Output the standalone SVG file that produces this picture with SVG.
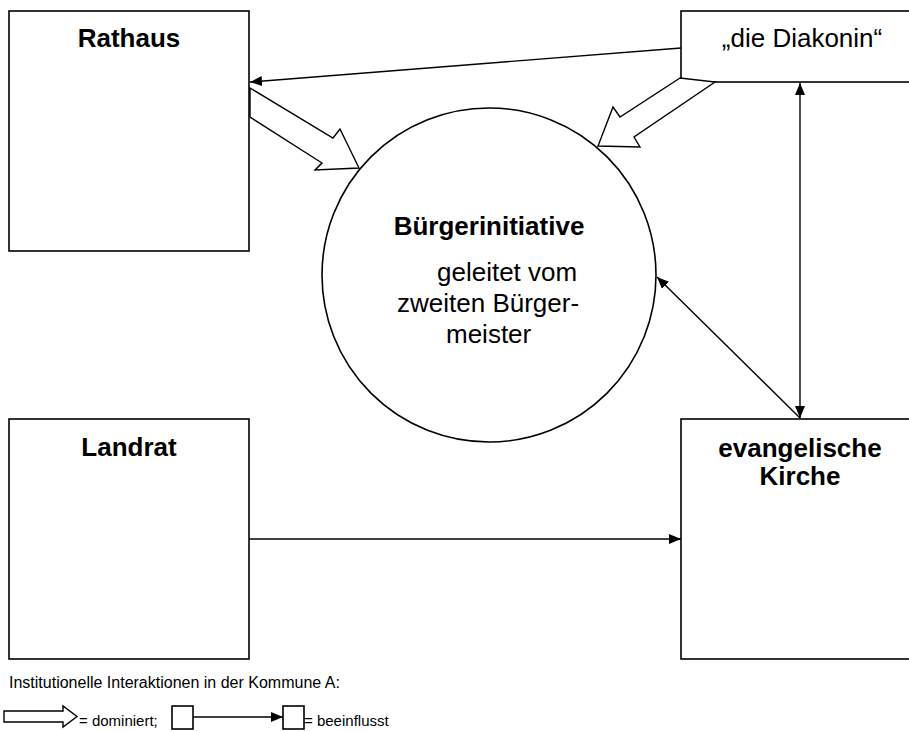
<svg xmlns="http://www.w3.org/2000/svg" width="909" height="731" viewBox="0 0 909 731">
<style>
.box{fill:#fff;stroke:#000;stroke-width:1.6}
.blk{fill:#fff;stroke:#000;stroke-width:1.4;stroke-linejoin:miter}
.ln{fill:none;stroke:#000;stroke-width:1.4}
.b{font-family:"Liberation Sans",Arial,sans-serif;font-weight:bold;font-size:26px;fill:#000}
.r{font-family:"Liberation Sans",Arial,sans-serif;font-size:26px;fill:#000}
.s{font-family:"Liberation Sans",Arial,sans-serif;font-size:15px;fill:#000}
.t{font-family:"Liberation Sans",Arial,sans-serif;font-size:16px;fill:#000}
</style>
<defs>
<marker id="ah" viewBox="0 0 12 10" refX="12" refY="5" markerWidth="12" markerHeight="10" markerUnits="userSpaceOnUse" orient="auto-start-reverse">
<path d="M0,0 L12,5 L0,10 Z" fill="#000"/>
</marker>
</defs>
<rect width="909" height="731" fill="#fff"/>
<g id="node-rathaus">
<rect class="box" x="9" y="11" width="240" height="240"/>
<text class="b" x="129" y="47" text-anchor="middle">Rathaus</text>
</g>
<g id="node-diakonin">
<rect class="box" x="681" y="11" width="240" height="71"/>
<text class="r" x="802" y="47" text-anchor="middle">„die Diakonin“</text>
</g>
<g id="node-buergerinitiative">
<circle class="box" cx="489" cy="275" r="167"/>
<text class="b" x="489" y="235" text-anchor="middle">Bürgerinitiative</text>
<text class="r" x="437" y="281">geleitet vom</text>
<text class="r" x="397" y="312">zweiten Bürger-</text>
<text class="r" x="446" y="343">meister</text>
</g>
<g id="node-landrat">
<rect class="box" x="9" y="419" width="240" height="240"/>
<text class="b" x="129" y="456" text-anchor="middle">Landrat</text>
</g>
<g id="node-kirche">
<rect class="box" x="681" y="419" width="240" height="240"/>
<text class="b" x="800" y="457" text-anchor="middle">evangelische</text>
<text class="b" x="800" y="485" text-anchor="middle">Kirche</text>
</g>
<g id="connectors">
<polygon class="blk" points="250,88 333,138 340,129 359,168 315,170 322,163 250,117"/>
<polygon class="blk" points="680,78 620,117 613,107 598,146 640,147 634,137 715,82"/>
<line class="ln" x1="681" y1="48" x2="250" y2="82" marker-end="url(#ah)"/>
<line class="ln" x1="800" y1="83" x2="800" y2="418" marker-start="url(#ah)" marker-end="url(#ah)"/>
<line class="ln" x1="800" y1="418" x2="657" y2="277" marker-end="url(#ah)"/>
<line class="ln" x1="249" y1="539" x2="681" y2="539" marker-end="url(#ah)"/>
</g>
<g id="legend">
<text class="t" x="9" y="688">Institutionelle Interaktionen in der Kommune A:</text>
<polygon class="blk" points="4,711 63,711 63,706 77,716.5 63,727 63,722 4,722"/>
<text class="s" x="79" y="726">= dominiert;</text>
<rect class="box" x="172" y="706" width="21" height="23"/>
<line class="ln" x1="193" y1="717" x2="283" y2="717" marker-end="url(#ah)"/>
<rect class="box" x="283" y="706" width="21" height="23"/>
<text class="s" x="304" y="726">= beeinflusst</text>
</g>
</svg>
